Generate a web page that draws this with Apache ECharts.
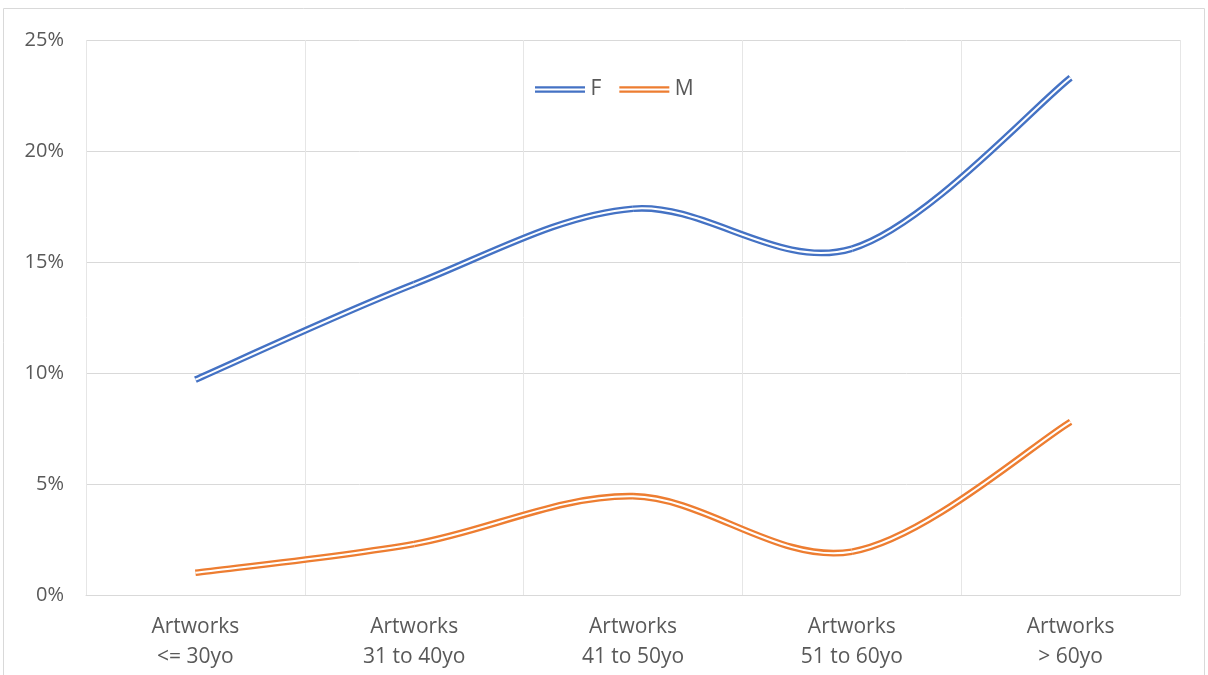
<!DOCTYPE html>
<html>
<head>
<meta charset="utf-8">
<script src="https://cdn.jsdelivr.net/npm/echarts@6/dist/echarts.min.js"></script>
<style>html,body{margin:0;padding:0;background:#fff}#c{width:1208px;height:675px}</style>
</head>
<body>
<div id="c"></div>
<script>
const categories = ['Artworks\n<= 30yo', 'Artworks\n31 to 40yo', 'Artworks\n41 to 50yo', 'Artworks\n51 to 60yo', 'Artworks\n> 60yo'];
const seriesF = [9.7, 14.0, 17.4, 15.6, 23.3];
const seriesM = [1.0, 2.3, 4.45, 1.95, 7.8];
const yTicks = [0, 5, 10, 15, 20, 25];

const chart = echarts.init(document.getElementById('c'));
const font = '"Open Sans", sans-serif';
const doubleIcon = 'path://M0,0H50V2.4H0Z M0,4.3H50V6.7H0Z';

// Excel-like smoothed (Catmull-Rom) double line drawn through the axis scales
function makeRender(values, color) {
  return function (params, api) {
    if (params.dataIndex !== 0) return null;
    const pts = values.map((v, i) => api.coord([i, v]));
    const n = pts.length;
    const outer = [], inner = [];
    for (let i = 0; i < n - 1; i++) {
      const p0 = pts[Math.max(i - 1, 0)], p1 = pts[i], p2 = pts[i + 1], p3 = pts[Math.min(i + 2, n - 1)];
      const shape = {
        x1: p1[0], y1: p1[1], x2: p2[0], y2: p2[1],
        cpx1: p1[0] + (p2[0] - p0[0]) / 6, cpy1: p1[1] + (p2[1] - p0[1]) / 6,
        cpx2: p2[0] - (p3[0] - p1[0]) / 6, cpy2: p2[1] - (p3[1] - p1[1]) / 6
      };
      outer.push({ type: 'bezierCurve', shape: shape, style: { stroke: color, lineWidth: 6.7, fill: null } });
      inner.push({ type: 'bezierCurve', shape: shape, style: { stroke: '#ffffff', lineWidth: 2, fill: null } });
    }
    return { type: 'group', children: outer.concat(inner) };
  };
}
function dbl(name, values, color) {
  return {
    name: name, type: 'custom', data: values.map((v, i) => [i, v]),
    encode: { x: 0, y: 1 }, itemStyle: { color: color }, clip: false,
    renderItem: makeRender(values, color)
  };
}
chart.setOption({
  animation: false,
  textStyle: { fontFamily: font },
  graphic: [{ type: 'rect', shape: { x: 3.5, y: 8.5, width: 1201, height: 680 }, style: { fill: 'none', stroke: '#d9d9d9', lineWidth: 1 }, silent: true }],
  grid: { left: 86, right: 28, top: 40, bottom: 80 },
  legend: {
    data: ['F', 'M'], top: 74, left: 530, icon: doubleIcon,
    itemWidth: 51, itemHeight: 6.7, itemGap: 18,
    textStyle: { fontSize: 21, color: '#595959', fontFamily: font }
  },
  xAxis: {
    type: 'category', data: categories, boundaryGap: true,
    axisLine: { lineStyle: { color: '#d9d9d9' } },
    axisTick: { show: false },
    splitLine: { show: true, lineStyle: { color: '#e6e6e6' } },
    axisLabel: { fontSize: 21, color: '#595959', lineHeight: 30, margin: 17, interval: 0 }
  },
  yAxis: {
    type: 'value', min: yTicks[0], max: yTicks[yTicks.length - 1], interval: 5,
    axisLine: { show: false }, axisTick: { show: false },
    splitLine: { lineStyle: { color: '#d9d9d9' } },
    axisLabel: { fontSize: 20, color: '#595959', margin: 22, formatter: v => v + '%' }
  },
  series: [dbl('F', seriesF, '#4472c4'), dbl('M', seriesM, '#ed7d31')]
});
</script>
</body>
</html>
